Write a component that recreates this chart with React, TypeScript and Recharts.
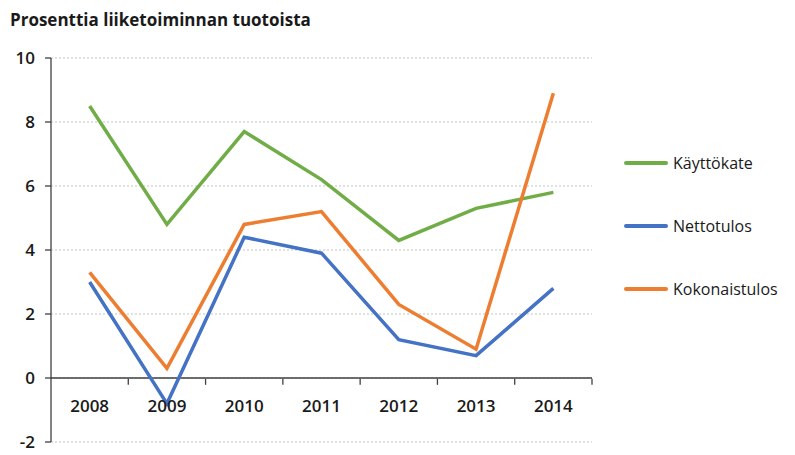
import React from "react";
import {
  CartesianGrid,
  Legend,
  Line,
  LineChart,
  ReferenceLine,
  XAxis,
  YAxis,
} from "recharts";

const years = ["2008", "2009", "2010", "2011", "2012", "2013", "2014"];
const kayttokate = [8.5, 4.8, 7.7, 6.2, 4.3, 5.3, 5.8];
const nettotulos = [3.0, -0.8, 4.4, 3.9, 1.2, 0.7, 2.8];
const kokonaistulos = [3.3, 0.3, 4.8, 5.2, 2.3, 0.9, 8.9];
const yTicks = [-2, 0, 2, 4, 6, 8, 10];
const legendOrder = ["Käyttökate", "Nettotulos", "Kokonaistulos"];

const data = years.map((year, i) => ({
  year,
  kayttokate: kayttokate[i],
  nettotulos: nettotulos[i],
  kokonaistulos: kokonaistulos[i],
}));

const W = 795;
const H = 455;
const TOP = 58;
const BOTTOM = 443;
const LEFT = 51;
const RIGHT = 592;
const Y_MIN = -2;
const Y_MAX = 10;
const ZERO_Y = TOP + ((Y_MAX - 0) / (Y_MAX - Y_MIN)) * (BOTTOM - TOP);
const BAND = (RIGHT - LEFT) / years.length;

const font = "'Open Sans', 'Noto Sans', sans-serif";

// category label sits under the zero line, with a tick mark at the band edge
const YearTick = (props: any) => {
  const { x, payload } = props;
  const edge = x + BAND / 2;
  return (
    <g>
      <line x1={edge} x2={edge} y1={ZERO_Y} y2={ZERO_Y + 6} stroke="#404040" strokeWidth={1.3} />
      <text
        x={x}
        y={ZERO_Y + 29}
        textAnchor="middle"
        dominantBaseline="middle"
        fontFamily={font}
        fontSize={17}
        fontWeight={600}
        fill="#1a1a1a"
      >
        {payload.value}
      </text>
    </g>
  );
};

const LegendBox = (props: any) => {
  const items = [...(props.payload || [])].sort(
    (a: any, b: any) => legendOrder.indexOf(a.value) - legendOrder.indexOf(b.value)
  );
  return (
    <div style={{ fontFamily: font, fontSize: 16, color: "#1a1a1a" }}>
      {items.map((p: any) => (
        <div
          key={p.value}
          style={{ display: "flex", alignItems: "center", height: 63 }}
        >
          <div
            style={{
              width: 44,
              height: 4,
              borderRadius: 2,
              background: p.color,
              marginRight: 5,
            }}
          />
          <span>{p.value}</span>
        </div>
      ))}
    </div>
  );
};

export default function App() {
  return (
    <div style={{ position: "absolute", left: 0, top: 0, width: W, height: H, background: "#fff" }}>
      <div
        style={{
          position: "absolute",
          left: 10,
          top: 8,
          fontFamily: font,
          fontSize: 17,
          fontWeight: 700,
          color: "#1a1a1a",
        }}
      >
        Prosenttia liiketoiminnan tuotoista
      </div>
      <LineChart
        width={W}
        height={H}
        data={data}
        margin={{ top: TOP, right: W - RIGHT, bottom: H - BOTTOM, left: 0 }}
      >
        <CartesianGrid vertical={false} stroke="#c4c4c4" strokeDasharray="2 2" />
        <XAxis
          dataKey="year"
          scale="band"
          axisLine={false}
          tickLine={false}
          tick={<YearTick />}
          height={1}
          interval={0}
        />
        <YAxis
          domain={[Y_MIN, Y_MAX]}
          ticks={yTicks}
          interval={0}
          width={LEFT}
          axisLine={{ stroke: "#404040", strokeWidth: 1.3 }}
          tickLine={{ stroke: "#404040", strokeWidth: 1.3 }}
          tickSize={6}
          tickMargin={10}
          tick={{ fontFamily: font, fontSize: 17, fontWeight: 600, fill: "#1a1a1a" }}
        />
        <ReferenceLine y={0} stroke="#404040" strokeWidth={1.3} />
        <Legend
          layout="vertical"
          align="center"
          verticalAlign="middle"
          content={<LegendBox />}
          wrapperStyle={{ position: "absolute", left: 624, top: 131, width: 170 }}
        />
        <Line
          type="linear"
          dataKey="kayttokate"
          name="Käyttökate"
          stroke="#70AD47"
          strokeWidth={3.5}
          dot={false}
          isAnimationActive={false}
        />
        <Line
          type="linear"
          dataKey="nettotulos"
          name="Nettotulos"
          stroke="#4472C4"
          strokeWidth={3.5}
          dot={false}
          isAnimationActive={false}
        />
        <Line
          type="linear"
          dataKey="kokonaistulos"
          name="Kokonaistulos"
          stroke="#ED7D31"
          strokeWidth={3.5}
          dot={false}
          isAnimationActive={false}
        />
      </LineChart>
    </div>
  );
}
